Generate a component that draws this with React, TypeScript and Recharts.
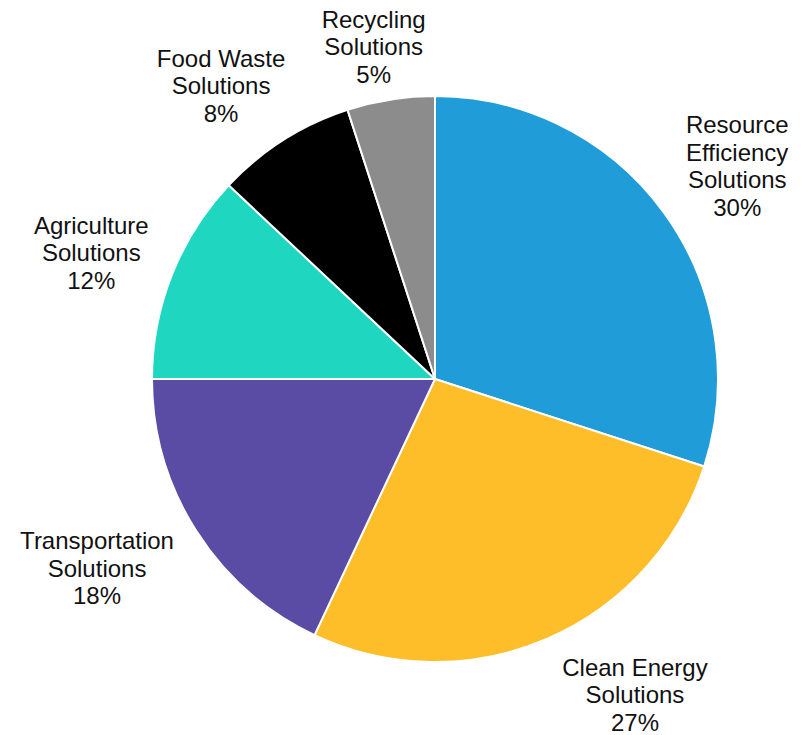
import React from "react";
import { PieChart, Pie, Cell } from "recharts";

const CATEGORIES = [
  "Resource\nEfficiency\nSolutions",
  "Clean Energy\nSolutions",
  "Transportation\nSolutions",
  "Agriculture\nSolutions",
  "Food Waste\nSolutions",
  "Recycling\nSolutions",
];
const SHARES = [30, 27, 18, 12, 8, 5];
const COLORS = ["#209cd8", "#febe2a", "#5a4ba4", "#1fd7c1", "#000000", "#8c8c8c"];

const data = CATEGORIES.map((name, i) => ({ name, value: SHARES[i] }));

// small hand tweaks so labels sit where the original placed them
const LABEL_NUDGE: [number, number][] = [
  [11, -2],
  [57, -15],
  [-34, -4],
  [-9, 6],
  [-21, 10],
  [-5, 23],
];

const RADIAN = Math.PI / 180;
const LINE_H = 27.5;

const renderLabel = (props: any) => {
  const { cx, cy, midAngle, index, name, value } = props;
  const r = 360;
  const [nx, ny] = LABEL_NUDGE[index] || [0, 0];
  const x = cx + r * Math.cos(-midAngle * RADIAN) + nx;
  const y = cy + r * Math.sin(-midAngle * RADIAN) + ny;
  const lines = [...String(name).split("\n"), `${value}%`];
  const top = y - ((lines.length - 1) * LINE_H) / 2;
  return (
    <text
      x={x}
      y={top}
      textAnchor="middle"
      dominantBaseline="central"
      fill="#111"
      fontSize={24}
      fontFamily="'Liberation Sans', Arial, sans-serif"
    >
      {lines.map((l, i) => (
        <tspan key={i} x={x} y={top + i * LINE_H}>
          {l}
        </tspan>
      ))}
    </text>
  );
};

export default function App() {
  return (
    <div style={{ position: "absolute", left: 0, top: 0, width: 804, height: 735, background: "#fff" }}>
      <PieChart width={804} height={735} margin={{ top: 0, right: 0, bottom: 0, left: 0 }}>
        <Pie
          data={data}
          dataKey="value"
          nameKey="name"
          cx={435}
          cy={379}
          outerRadius={283}
          startAngle={90}
          endAngle={-270}
          stroke="#fff"
          strokeWidth={2}
          label={renderLabel}
          labelLine={false}
          isAnimationActive={false}
        >
          {data.map((_, i) => (
            <Cell key={i} fill={COLORS[i]} />
          ))}
        </Pie>
      </PieChart>
    </div>
  );
}
